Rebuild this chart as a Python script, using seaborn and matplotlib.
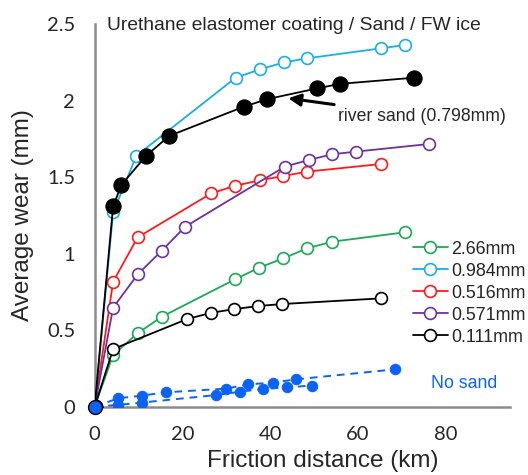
import matplotlib
matplotlib.use("Agg")
import matplotlib.pyplot as plt
import seaborn as sns
import pandas as pd

# ---- data ----
x_266 = [0, 4.2, 9.8, 15.3, 32.0, 37.5, 43.0, 48.4, 54.0, 70.7]
y_266 = [0, 0.338, 0.48, 0.588, 0.833, 0.909, 0.97, 1.035, 1.078, 1.14]

x_0984 = [0, 4.2, 9.5, 32.1, 37.7, 43.1, 48.4, 65.2, 70.7]
y_0984 = [0, 1.27, 1.64, 2.15, 2.205, 2.25, 2.277, 2.342, 2.364]

x_0516 = [0, 4.2, 9.8, 26.6, 32.0, 37.7, 43.0, 48.3, 65.2]
y_0516 = [0, 0.817, 1.107, 1.395, 1.444, 1.48, 1.508, 1.536, 1.586]

x_0571 = [0, 4.2, 9.8, 15.3, 20.6, 43.3, 48.7, 54.1, 59.5, 76.2]
y_0571 = [0, 0.647, 0.865, 1.02, 1.176, 1.569, 1.612, 1.65, 1.667, 1.717]

x_0111 = [0, 4.2, 21.1, 26.6, 31.8, 37.3, 42.7, 65.2]
y_0111 = [0, 0.377, 0.573, 0.614, 0.638, 0.658, 0.671, 0.708]

x_river = [0, 4.2, 6.1, 11.7, 17.0, 33.9, 39.3, 50.6, 55.9, 72.7]
y_river = [0, 1.31, 1.45, 1.64, 1.77, 1.96, 2.01, 2.08, 2.11, 2.15]

x_nosand_a = [0, 5.4, 10.7, 16.2, 29.9, 35.0, 40.5, 45.9, 68.4]
y_nosand_a = [0, 0.055, 0.072, 0.094, 0.118, 0.146, 0.157, 0.179, 0.244]

x_nosand_b = [0, 5.4, 10.7, 27.6, 33.1, 38.4, 43.9, 49.4]
y_nosand_b = [0, 0.012, 0.027, 0.076, 0.098, 0.116, 0.127, 0.138]

legend_labels = ["2.66mm", "0.984mm", "0.516mm", "0.571mm", "0.111mm"]
x_ticks = [0, 20, 40, 60, 80]
y_ticks = [0, 0.5, 1, 1.5, 2, 2.5]
y_ticklabels = ["0", "0.5", "1", "1.5", "2", "2.5"]

sns.set_style("white")
plt.rcParams['font.family'] = ['Liberation Sans', 'DejaVu Sans']

fig = plt.figure(figsize=(5.28, 4.75), dpi=100)
ax = fig.add_axes([0.1793, 0.1438, 0.7867, 0.8053])

open_series = [
    (x_266, y_266, "#1aaa55", legend_labels[0]),
    (x_0984, y_0984, "#19aee8", legend_labels[1]),
    (x_0516, y_0516, "#ff1a1a", legend_labels[2]),
    (x_0571, y_0571, "#7030a0", legend_labels[3]),
    (x_0111, y_0111, "#000000", legend_labels[4]),
]

# no-sand series (dashed, filled blue)
for xs, ys in [(x_nosand_a, y_nosand_a), (x_nosand_b, y_nosand_b)]:
    df = pd.DataFrame({"x": xs, "y": ys})
    sns.lineplot(data=df, x="x", y="y", ax=ax, sort=False, color="#0b63f6",
                 linestyle=(0, (4, 3)), linewidth=1.4, marker="o", markersize=7.5,
                 markerfacecolor="#0b63f6", markeredgecolor="#0b63f6", zorder=3)

for xs, ys, c, lab in open_series:
    df = pd.DataFrame({"x": xs, "y": ys})
    sns.lineplot(data=df, x="x", y="y", ax=ax, sort=False, color=c, linewidth=1.3,
                 marker="o", markersize=8.5, markerfacecolor="white",
                 markeredgecolor=c, markeredgewidth=1.2, label=lab, zorder=4)

df_r = pd.DataFrame({"x": x_river, "y": y_river})
sns.lineplot(data=df_r, x="x", y="y", ax=ax, sort=False, color="black", linewidth=1.3,
             marker="o", markersize=11, markerfacecolor="black",
             markeredgecolor="black", zorder=5)

# origin blue dot on top
ax.plot([x_nosand_a[0]], [y_nosand_a[0]], marker="o", markersize=10,
        markerfacecolor="#0b63f6", markeredgecolor="black", markeredgewidth=1.0,
        zorder=7, clip_on=False, linestyle="none")

ax.set_xlim(0, 94.6)
ax.set_ylim(0, 2.5)
ax.set_xticks(x_ticks)
ax.set_yticks(y_ticks)
ax.set_yticklabels(y_ticklabels)
for lbl in ax.get_xticklabels() + ax.get_yticklabels():
    lbl.set_fontfamily(['Lato', 'DejaVu Sans'])
    lbl.set_fontsize(14.5)
ax.tick_params(axis='both', direction='in', length=6, width=1, color="#8c8c8c")
ax.tick_params(axis='y', pad=14)
ax.tick_params(axis='x', pad=14)
for s in ["top", "right"]:
    ax.spines[s].set_visible(False)
for s in ["left", "bottom"]:
    ax.spines[s].set_color("#8c8c8c")
    ax.spines[s].set_linewidth(1.8)

ax.set_xlabel("Friction distance (km)", fontsize=17.5, va="center")
ax.set_ylabel("Average wear (mm)", fontsize=17.5, va="center")
ax.xaxis.set_label_coords(0.5485, -0.143)
ax.yaxis.set_label_coords(-0.1726, 0.5)

ax.text(2.8, 2.49, "Urethane elastomer coating / Sand / FW ice", fontsize=13.9,
        va="center", ha="left")
ax.annotate("river sand (0.798mm)", xy=(44.1, 2.016), xytext=(55.4, 1.895),
            fontsize=12.7, va="center", ha="left",
            arrowprops=dict(arrowstyle="-|>", color="black", lw=2.2,
                            mutation_scale=18, shrinkA=2, shrinkB=0))
ax.text(76.6, 0.153, "No sand", fontsize=12.8, color="#0b63f6", va="center", ha="left")

leg = ax.legend(loc="upper left", bbox_to_anchor=(0.766, 0.434), frameon=False,
                fontsize=12.9, handlelength=1.95, handletextpad=0.2,
                labelspacing=0.28, borderaxespad=0, borderpad=0)

fig.savefig("out.png", dpi=100)
